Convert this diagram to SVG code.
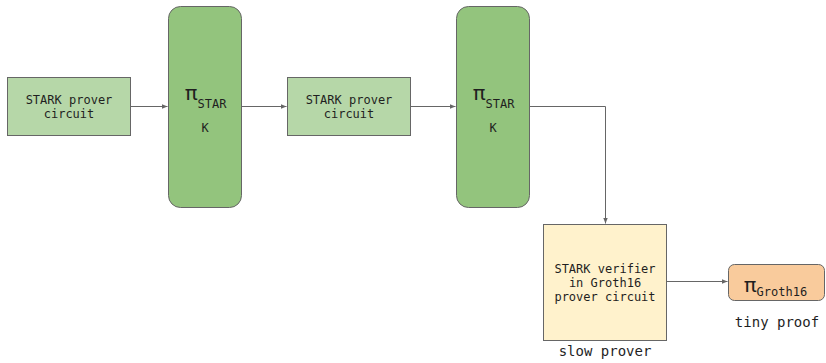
<svg xmlns="http://www.w3.org/2000/svg" width="826" height="363" viewBox="0 0 826 363">
  <style>
    .box { stroke: #666666; stroke-width: 1; }
    .circ { fill: #b6d7a8; }
    .proof { fill: #93c47d; }
    .verif { fill: #fff2cc; }
    .tiny { fill: #f9cb9c; }
    .mono { font-family: "DejaVu Sans Mono", "Liberation Mono", monospace; fill: #1f1f1f; }
    .t12 { font-size: 12px; }
    .t14 { font-size: 14px; }
    .pi { font-family: Roboto, "Liberation Sans", sans-serif; font-size: 21px; fill: #1f1f1f; }
    .wire { fill: none; stroke: #666666; stroke-width: 1; }
  </style>
  <defs>
    <marker id="head" viewBox="0 0 10 10" refX="10" refY="5" markerWidth="6" markerHeight="6" markerUnits="userSpaceOnUse" orient="auto">
      <path d="M0,1 L10,5 L0,9 z" fill="#666666"/>
    </marker>
  </defs>
  <rect width="826" height="363" fill="#ffffff"/>

  <g id="connectors">
    <path class="wire" d="M130.5,106.5 H167.5" marker-end="url(#head)"/>
    <path class="wire" d="M242,106.5 H286.5" marker-end="url(#head)"/>
    <path class="wire" d="M410.5,106.5 H455.5" marker-end="url(#head)"/>
    <path class="wire" d="M530,106.5 H605.5 V223.5" marker-end="url(#head)"/>
    <path class="wire" d="M666.5,281.5 H727.5" marker-end="url(#head)"/>
  </g>

  <g id="stark-circuit-1">
    <rect class="box circ" x="7.5" y="77.5" width="123" height="58"/>
    <text class="mono t12" text-anchor="middle" x="69" y="104">STARK prover</text>
    <text class="mono t12" text-anchor="middle" x="69" y="118">circuit</text>
  </g>

  <g id="stark-proof-1">
    <rect class="box proof" x="168.5" y="6.5" width="73" height="201" rx="12" ry="12"/>
    <text x="185" y="100"><tspan class="pi">π</tspan><tspan class="mono t12" dy="8">STAR</tspan></text>
    <text class="mono t12" text-anchor="middle" x="205" y="132">K</text>
  </g>

  <g id="stark-circuit-2">
    <rect class="box circ" x="287.5" y="77.5" width="123" height="58"/>
    <text class="mono t12" text-anchor="middle" x="349" y="104">STARK prover</text>
    <text class="mono t12" text-anchor="middle" x="349" y="118">circuit</text>
  </g>

  <g id="stark-proof-2">
    <rect class="box proof" x="456.5" y="6.5" width="73" height="201" rx="12" ry="12"/>
    <text x="473" y="100"><tspan class="pi">π</tspan><tspan class="mono t12" dy="8">STAR</tspan></text>
    <text class="mono t12" text-anchor="middle" x="493" y="132">K</text>
  </g>

  <g id="groth16-verifier">
    <rect class="box verif" x="543.5" y="224.5" width="123" height="116"/>
    <text class="mono t12" text-anchor="middle" x="605" y="273">STARK verifier</text>
    <text class="mono t12" text-anchor="middle" x="605" y="287">in Groth16</text>
    <text class="mono t12" text-anchor="middle" x="605" y="301">prover circuit</text>
    <text class="mono t14" text-anchor="middle" x="605" y="356">slow prover</text>
  </g>

  <g id="groth16-proof">
    <rect class="box tiny" x="728.5" y="264.5" width="96" height="36" rx="6" ry="6"/>
    <text x="744" y="292"><tspan class="pi">π</tspan><tspan class="mono t12" dy="4">Groth16</tspan></text>
    <text class="mono t14" text-anchor="middle" x="777" y="327">tiny proof</text>
  </g>
</svg>
